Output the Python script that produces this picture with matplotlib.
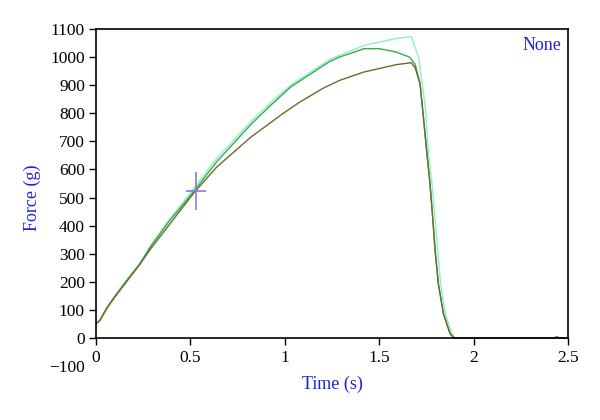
import matplotlib

matplotlib.use("Agg")
import matplotlib.pyplot as plt

# --- data ---
t_brown = [0, 0.02, 0.06, 0.1, 0.16, 0.23, 0.29, 0.39, 0.52, 0.64, 0.82, 0.99,
           1.08, 1.2, 1.29, 1.42, 1.59, 1.67, 1.69, 1.716, 1.734, 1.751, 1.769,
           1.783, 1.796, 1.813, 1.84, 1.875, 1.895, 2.0, 2.5]
f_brown = [51, 62, 108, 146, 199, 260, 318, 405, 518, 609, 715, 799,
           840, 888, 917, 947, 973, 980, 962, 906, 787, 668, 549,
           431, 312, 194, 87, 16, 0, 0, 0]

t_green = [0, 0.02, 0.06, 0.1, 0.16, 0.23, 0.29, 0.39, 0.46, 0.52, 0.64, 0.82,
           0.92, 1.03, 1.2, 1.24, 1.29, 1.42, 1.5, 1.59, 1.66, 1.69, 1.716,
           1.734, 1.751, 1.769, 1.783, 1.796, 1.813, 1.84, 1.875, 1.895, 2.0,
           2.42, 2.44, 2.46, 2.5]
f_green = [51, 63, 110, 148, 202, 262, 326, 418, 474, 524, 628, 760,
           825, 893, 968, 985, 1000, 1030, 1030, 1018, 1000, 975, 906,
           787, 668, 549, 431, 312, 194, 87, 16, 0, 0,
           0, 5, 0, 0]

t_cyan = [0, 0.02, 0.06, 0.1, 0.16, 0.23, 0.29, 0.39, 0.46, 0.52, 0.64, 0.82,
          0.92, 1.03, 1.2, 1.24, 1.42, 1.59, 1.67, 1.71, 1.745, 1.76, 1.78,
          1.795, 1.81, 1.825, 1.85, 1.885, 1.905, 2.0, 2.5]
f_cyan = [51, 64, 112, 150, 205, 264, 330, 424, 482, 535, 640, 770,
          835, 900, 975, 992, 1042, 1066, 1073, 995, 817, 668, 549,
          431, 312, 194, 87, 16, 0, 0, 0]

cross_t, cross_f = [0.53], [525]

yticks = list(range(-100, 1101, 100))
xticks = [0, 0.5, 1, 1.5, 2, 2.5]
xticklabels = ["0", "0.5", "1", "1.5", "2", "2.5"]

plt.rcParams["font.family"] = ["Liberation Serif", "DejaVu Serif"]

fig = plt.figure(figsize=(6, 4.2), dpi=100)
ax = fig.add_axes([0.16, 0.1283, 0.7867, 0.8027])

ax.plot(t_cyan, f_cyan, color="#8ef0c4", lw=1.0)
ax.plot(t_green, f_green, color="#3aa84e", lw=1.0)
ax.plot(t_brown, f_brown, color="#6e6a2c", lw=1.0)
ax.plot(cross_t, cross_f, marker="|", ms=28, mew=1.2, color="#8a7ad8", ls="none")
ax.plot(cross_t, cross_f, marker="_", ms=15, mew=1.2, color="#8a7ad8", ls="none")

ax.set_xlim(0, 2.5)
ax.set_ylim(-100, 1100)
ax.spines["bottom"].set_position(("data", 0))
ax.spines["left"].set_bounds(0, 1100)
ax.spines["right"].set_bounds(0, 1100)
for s in ax.spines.values():
    s.set_linewidth(1.2)

ax.set_xticks(xticks, xticklabels)
ax.set_yticks(yticks, [f"\u2212{-v}" if v < 0 else str(v) for v in yticks])
ax.tick_params(direction="out", length=5, width=1, labelsize=12.5, colors="black")
ax.tick_params(axis="y", pad=3)
ax.yaxis.get_major_ticks()[0].tick1line.set_visible(False)

ax.set_xlabel("Time (s)", color="#2020e0", fontsize=13, labelpad=7)
ax.set_ylabel("Force (g)", color="#2020e0", fontsize=13, labelpad=6)
ax.text(0.985, 0.975, "None", transform=ax.transAxes, ha="right", va="top",
        color="#2020e0", fontsize=13)

fig.savefig("out.png", dpi=100)
